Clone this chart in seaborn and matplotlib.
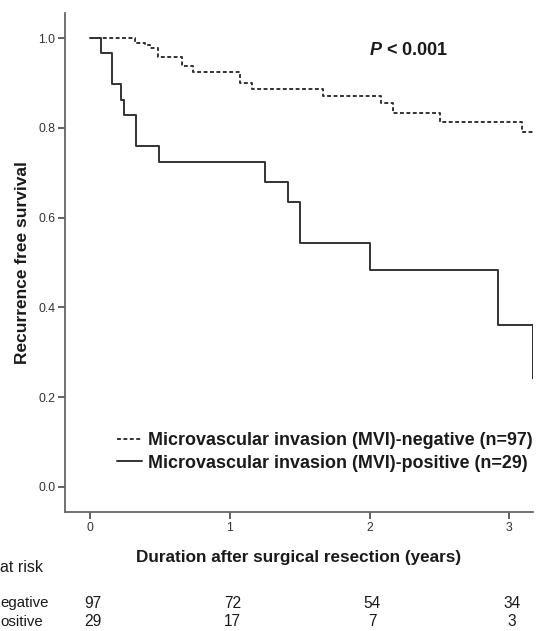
import matplotlib
matplotlib.use("Agg")
import matplotlib.pyplot as plt
import matplotlib.transforms as mtransforms
import seaborn as sns
import pandas as pd
import numpy as np

# ---- data ----
neg_time = [0.0, 0.32, 0.39, 0.43, 0.49, 0.66, 0.74, 1.075, 1.16, 1.665, 2.08, 2.17, 2.505, 3.09, 3.17]
neg_surv = [1.0, 0.990, 0.985, 0.979, 0.959, 0.937, 0.925, 0.900, 0.887, 0.871, 0.855, 0.834, 0.812, 0.790, 0.790]

pos_time = [0.0, 0.077, 0.16, 0.22, 0.243, 0.327, 0.496, 1.25, 1.42, 1.50, 2.00, 2.923, 3.173, 3.173]
pos_surv = [1.0, 0.966, 0.897, 0.862, 0.828, 0.759, 0.724, 0.679, 0.634, 0.544, 0.483, 0.361, 0.361, 0.242]

groups = ["Microvascular invasion (MVI)-negative (n=97)",
          "Microvascular invasion (MVI)-positive (n=29)"]

risk_times = [0, 1, 2, 3]
risk_neg = [97, 72, 54, 34]
risk_pos = [29, 17, 7, 3]
risk_row_labels = ["egative", "ositive"]
risk_title = "at risk"

x_ticks = [0, 1, 2, 3]
y_ticks = [0.0, 0.2, 0.4, 0.6, 0.8, 1.0]

p_text = "$\\boldsymbol{P}$ < 0.001"
xlabel = "Duration after surgical resection (years)"
ylabel = "Recurrence free survival"

df = pd.concat([
    pd.DataFrame({"time": neg_time, "surv": neg_surv, "group": groups[0]}),
    pd.DataFrame({"time": pos_time, "surv": pos_surv, "group": groups[1]}),
], ignore_index=True)

sns.set_theme(style="white")
plt.rcParams["font.family"] = ["Liberation Sans", "DejaVu Sans"]
plt.rcParams["mathtext.fontset"] = "custom"
plt.rcParams["mathtext.bfit"] = "Liberation Sans:bold:italic"
plt.rcParams["mathtext.it"] = "Liberation Sans:italic:bold"

fig = plt.figure(figsize=(5.42, 6.31), dpi=100)
ax = fig.add_axes([65/542, 1-512/631, (533-65)/542, (512-13)/631])

line_col = "#333333"
sns.lineplot(data=df, x="time", y="surv", hue="group", style="group",
             estimator=None, drawstyle="steps-post", ax=ax,
             palette=[line_col, line_col], dashes=[(2.0, 1.3), ""],
             linewidth=1.4, legend=False)

ax.set_xlim(-0.179, 3.17)
ax.set_ylim(-0.056, 1.056)
ax.set_xticks(x_ticks)
ax.set_xticklabels([str(t) for t in x_ticks])
ax.set_yticks(y_ticks)
ax.set_yticklabels([f"{t:.1f}" for t in y_ticks])

for s in ["top", "right"]:
    ax.spines[s].set_visible(False)
for s in ["left", "bottom"]:
    ax.spines[s].set_color("#666666")
    ax.spines[s].set_linewidth(1.3)
ax.tick_params(axis="both", which="major", direction="out", length=5, width=1.3,
               color="#555555", labelsize=8.8, labelcolor="#333333", pad=2,
               left=True, bottom=True)

ax.set_xlabel(xlabel, fontsize=12.3, fontweight="bold", color="#1a1a1a", labelpad=12)
ax.set_ylabel(ylabel, fontsize=12.5, fontweight="bold", color="#1a1a1a", labelpad=6)

ax.text(0.65, 0.925, p_text, transform=ax.transAxes, fontsize=13,
        fontweight="bold", color="#1a1a1a", ha="left", va="center")

# legend built from the drawn lines
handles = ax.get_lines()[:2]
leg = ax.legend(handles, groups, loc="center left", frameon=False,
                bbox_to_anchor=(117/542, 1-452/631), bbox_transform=fig.transFigure,
                handlelength=1.42, handletextpad=0.33, labelspacing=0.3,
                borderaxespad=0, borderpad=0,
                prop={"family": "Liberation Sans", "weight": "bold", "size": 12.9})
for t in leg.get_texts():
    t.set_color("#1a1a1a")

# numbers at risk table
trans = mtransforms.blended_transform_factory(ax.transData, fig.transFigure)
fig.text(0.0, 1-568/631, risk_title, fontsize=11.5, color="#1a1a1a", ha="left", va="center")
fig.text(0.5/542, 1-603/631, risk_row_labels[0], fontsize=10.8, color="#1a1a1a", ha="left", va="center")
fig.text(0.5/542, 1-622/631, risk_row_labels[1], fontsize=10.8, color="#1a1a1a", ha="left", va="center")
for t, n1, n2 in zip(risk_times, risk_neg, risk_pos):
    ax.text(t + 0.02, 1-603/631, str(n1), transform=trans, fontsize=11.2,
            color="#1a1a1a", ha="center", va="center")
    ax.text(t + 0.02, 1-622/631, str(n2), transform=trans, fontsize=11.2,
            color="#1a1a1a", ha="center", va="center")

fig.savefig("out.png", dpi=100)
